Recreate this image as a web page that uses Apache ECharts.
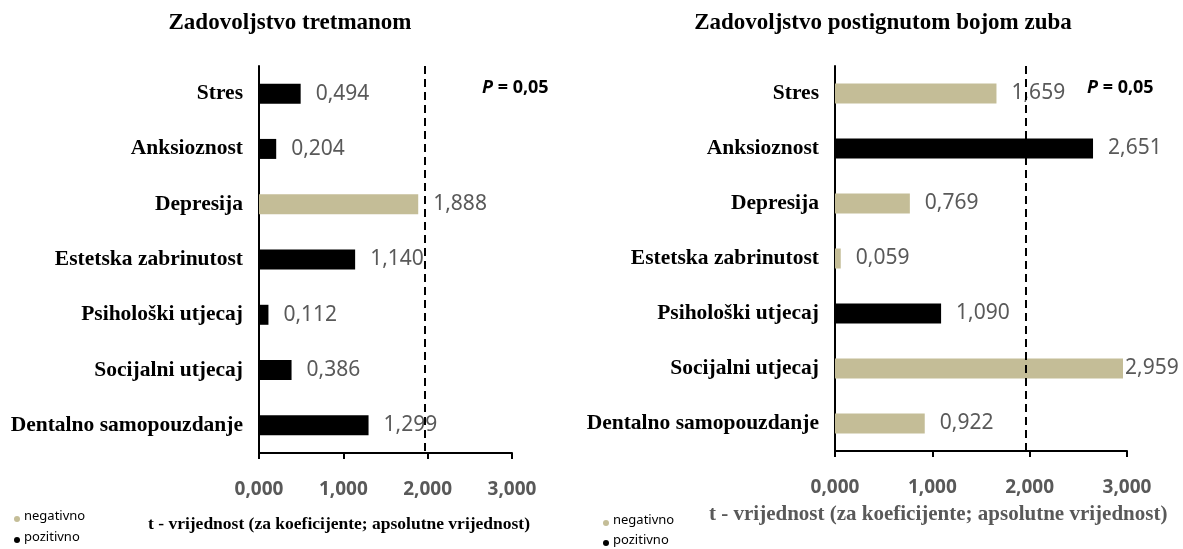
<!DOCTYPE html>
<html lang="hr">
<head>
    <meta charset="UTF-8">
    <title>Zadovoljstvo</title>
    <script src="https://cdn.jsdelivr.net/npm/echarts@6/dist/echarts.min.js"></script>
    <style>
        html, body { margin: 0; padding: 0; background: #fff; }
        #box { width: 1183px; height: 549px; }
    </style>
</head>
<body>
<div id="box"></div>
<script>
    var categories = ['Stres', 'Anksioznost', 'Depresija', 'Estetska zabrinutost',
        'Psihološki utjecaj', 'Socijalni utjecaj', 'Dentalno samopouzdanje'];
    var leftValues = [0.494, 0.204, 1.888, 1.140, 0.112, 0.386, 1.299];
    var leftSign = ['poz', 'poz', 'neg', 'poz', 'poz', 'poz', 'poz'];
    var rightValues = [1.659, 2.651, 0.769, 0.059, 1.090, 2.959, 0.922];
    var rightSign = ['neg', 'poz', 'neg', 'neg', 'poz', 'neg', 'neg'];
    var xTicks = [0, 1, 2, 3];
    var critical = 1.96;

    var tan = '#c4bd97';
    var grey = '#595959';
    var serif = '"Liberation Serif", "Times New Roman", serif';
    var sans = '"Noto Sans", sans-serif';

    function fmt(v) {
        return v.toFixed(3).replace('.', ',');
    }

    function barData(values, signs) {
        return values.map(function (v, i) {
            var item = { value: v, itemStyle: { color: signs[i] === 'neg' ? tan : '#000' } };
            // label pushed against the bar when it would leave the chart
            if (v > 2.9) item.label = { distance: 2 };
            return item;
        });
    }

    function xAx(idx) {
        return {
            gridIndex: idx, type: 'value', min: xTicks[0], max: xTicks[xTicks.length - 1], interval: 1,
            splitLine: { show: false },
            axisLine: { show: true, lineStyle: { color: '#000', width: 2 } },
            axisTick: { show: true, length: 6, lineStyle: { color: '#000', width: 2 } },
            axisLabel: { margin: 27, color: grey, fontFamily: sans, fontWeight: 'bold', fontSize: 19, formatter: fmt }
        };
    }

    function yAx(idx) {
        return {
            gridIndex: idx, type: 'category', data: categories, inverse: true,
            axisLine: { show: true, lineStyle: { color: '#000', width: 2 } },
            axisTick: { show: false },
            axisLabel: { margin: 16, color: '#000', fontFamily: serif, fontWeight: 'bold', fontSize: 21.5 }
        };
    }

    function barSeries(idx, values, signs) {
        return {
            type: 'bar', xAxisIndex: idx, yAxisIndex: idx, barWidth: 20,
            data: barData(values, signs),
            label: {
                show: true, position: 'right', distance: 15, color: grey,
                fontFamily: sans, fontSize: 21,
                formatter: function (p) { return fmt(p.value); }
            },
            markLine: {
                silent: true, symbol: 'none', label: { show: false },
                lineStyle: { color: '#000', type: [8, 5], width: 2 },
                data: [{ xAxis: critical }]
            }
        };
    }

    var chart = echarts.init(document.getElementById('box'));
    var option = {
        animation: false,
        title: [
            { text: 'Zadovoljstvo tretmanom', left: 285, top: 7, textAlign: 'center',
              textStyle: { fontFamily: serif, fontWeight: 'bold', fontSize: 23, color: '#000' } },
            { text: 'Zadovoljstvo postignutom bojom zuba', left: 878, top: 7, textAlign: 'center',
              textStyle: { fontFamily: serif, fontWeight: 'bold', fontSize: 23, color: '#000' } }
        ],
        grid: [
            { left: 259, top: 66, width: 253, height: 387 },
            { left: 835, top: 66, width: 292, height: 385 }
        ],
        xAxis: [xAx(0), xAx(1)],
        yAxis: [yAx(0), yAx(1)],
        series: [barSeries(0, leftValues, leftSign), barSeries(1, rightValues, rightSign)],
        graphic: [
            { type: 'text', left: 482, top: 79, style: {
                text: '{i|P} = 0,05', fill: '#000', font: 'bold 18px ' + sans,
                rich: { i: { fontStyle: 'italic', fontWeight: 'bold', fontSize: 18, fontFamily: sans } } } },
            { type: 'text', left: 1087, top: 79, style: {
                text: '{i|P} = 0,05', fill: '#000', font: 'bold 18px ' + sans,
                rich: { i: { fontStyle: 'italic', fontWeight: 'bold', fontSize: 18, fontFamily: sans } } } },
            { type: 'text', left: 148, top: 515, style: {
                text: 't - vrijednost (za koeficijente; apsolutne vrijednost)', fill: '#000', font: 'bold 17.5px ' + serif } },
            { type: 'text', left: 709, top: 504, style: {
                text: 't - vrijednost (za koeficijente; apsolutne vrijednost)', fill: grey, font: 'bold 21px ' + serif } },
            { type: 'circle', shape: { cx: 17, cy: 519, r: 3 }, style: { fill: tan } },
            { type: 'text', left: 24, top: 510, style: { text: 'negativno', fill: '#000', font: '13px ' + sans } },
            { type: 'circle', shape: { cx: 17, cy: 540, r: 3 }, style: { fill: '#000' } },
            { type: 'text', left: 24, top: 531, style: { text: 'pozitivno', fill: '#000', font: '13px ' + sans } },
            { type: 'circle', shape: { cx: 606, cy: 523, r: 3 }, style: { fill: tan } },
            { type: 'text', left: 613, top: 514, style: { text: 'negativno', fill: '#000', font: '13px ' + sans } },
            { type: 'circle', shape: { cx: 606, cy: 543, r: 3 }, style: { fill: '#000' } },
            { type: 'text', left: 613, top: 534, style: { text: 'pozitivno', fill: '#000', font: '13px ' + sans } }
        ]
    };
    chart.setOption(option);
</script>
</body>
</html>
